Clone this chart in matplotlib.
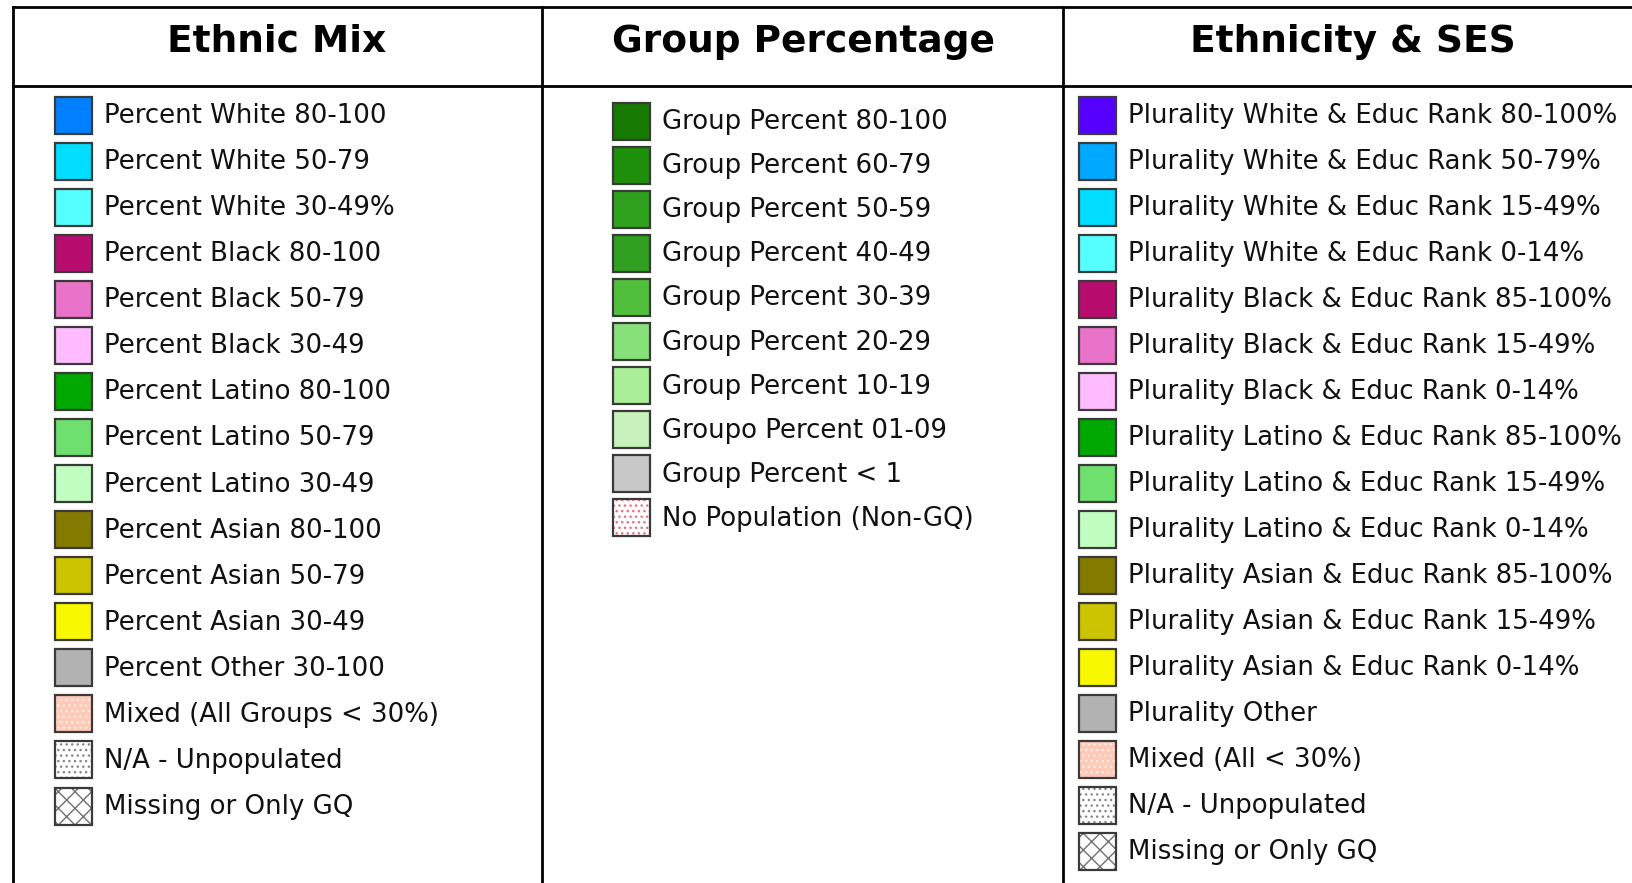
import matplotlib.pyplot as plt
from matplotlib.patches import Rectangle

# column headers
headers = ["Ethnic Mix", "Group Percentage", "Ethnicity & SES"]

# legend entries, one list of labels and one of fill colours per column
# named fills ("mixed", "na", ...) are patterned swatches
eth_labels = [
    "Percent White 80-100", "Percent White 50-79", "Percent White 30-49%",
    "Percent Black 80-100", "Percent Black 50-79", "Percent Black 30-49",
    "Percent Latino 80-100", "Percent Latino 50-79", "Percent Latino 30-49",
    "Percent Asian 80-100", "Percent Asian 50-79", "Percent Asian 30-49",
    "Percent Other 30-100", "Mixed (All Groups < 30%)", "N/A - Unpopulated",
    "Missing or Only GQ",
]
eth_colors = [
    "#0080FF", "#00DDFF", "#55FFFF",
    "#B80C6E", "#E873C8", "#FFBBFF",
    "#00A800", "#6EE06E", "#C0FFC0",
    "#857A00", "#CCC400", "#F8F800",
    "#B2B2B2", "mixed", "na", "missing",
]

grp_labels = [
    "Group Percent 80-100", "Group Percent 60-79", "Group Percent 50-59",
    "Group Percent 40-49", "Group Percent 30-39", "Group Percent 20-29",
    "Group Percent 10-19", "Groupo Percent 01-09", "Group Percent < 1",
    "No Population (Non-GQ)",
]
grp_colors = [
    "#157A00", "#1E8F0A", "#2EA21C", "#30A020", "#50C03C", "#88E07A",
    "#AAEE99", "#C8F2BC", "#C8C8C8", "nopop",
]

ses_labels = [
    "Plurality White & Educ Rank 80-100%", "Plurality White & Educ Rank 50-79%",
    "Plurality White & Educ Rank 15-49%", "Plurality White & Educ Rank 0-14%",
    "Plurality Black & Educ Rank 85-100%", "Plurality Black & Educ Rank 15-49%",
    "Plurality Black & Educ Rank 0-14%", "Plurality Latino & Educ Rank 85-100%",
    "Plurality Latino & Educ Rank 15-49%", "Plurality Latino & Educ Rank 0-14%",
    "Plurality Asian & Educ Rank 85-100%", "Plurality Asian & Educ Rank 15-49%",
    "Plurality Asian & Educ Rank 0-14%", "Plurality Other",
    "Mixed (All < 30%)", "N/A - Unpopulated", "Missing or Only GQ",
]
ses_colors = [
    "#5500FF", "#00A8FF", "#00DDFF", "#55FFFF",
    "#B80C6E", "#E873C8", "#FFBBFF",
    "#00A800", "#6EE06E", "#C0FFC0",
    "#857A00", "#CCC400", "#F8F800",
    "#B2B2B2", "mixed", "na", "missing",
]

# pattern swatches: (fill, hatch, hatch colour)
patterns = {
    "mixed": ("#FFC9B8", "...", "#FFF0EA"),
    "na": ("white", "...", "#888888"),
    "missing": ("white", "xx", "#707070"),
    "nopop": ("white", "...", "#E8707C"),
}

W, H = 1632, 883
fig = plt.figure(figsize=(W / 100, H / 100), dpi=100)
ax = fig.add_axes([0, 0, 1, 1])
ax.set_xlim(0, W)
ax.set_ylim(H, 0)
ax.axis("off")

# table grid
left, div1, div2 = 12.5, 542, 1063
top, head_bottom = 7, 86
lw = 2
ax.plot([left, W], [top, top], color="black", lw=lw)
ax.plot([left, W], [head_bottom, head_bottom], color="black", lw=lw)
for x in (left, div1, div2):
    ax.plot([x, x], [top, H], color="black", lw=lw)

head_x = [277, 803, 1353]
for x, h in zip(head_x, headers):
    ax.text(x, 42, h, ha="center", va="center",
            fontsize=27, fontweight="bold", color="black")

columns = [
    (eth_labels, eth_colors, 55, 115, 46.07),
    (grp_labels, grp_colors, 613, 121, 44.1),
    (ses_labels, ses_colors, 1079, 115, 46.03),
]
sw = 37
for labels, colors, x0, y0, step in columns:
    for i, (lab, col) in enumerate(zip(labels, colors)):
        yc = y0 + i * step
        if col in patterns:
            fill, hatch, hcol = patterns[col]
            ax.add_patch(Rectangle((x0, yc - sw / 2), sw, sw, facecolor=fill,
                                   edgecolor=hcol, hatch=hatch, lw=0))
        else:
            ax.add_patch(Rectangle((x0, yc - sw / 2), sw, sw, facecolor=col,
                                   lw=0))
        ax.add_patch(Rectangle((x0, yc - sw / 2), sw, sw, facecolor="none",
                               edgecolor="#3a3a3a", lw=1.6))
        ax.text(x0 + sw + 12, yc + 1, lab, ha="left", va="center",
                fontsize=18.7, color="#111111")

fig.savefig("out.png", dpi=100)
